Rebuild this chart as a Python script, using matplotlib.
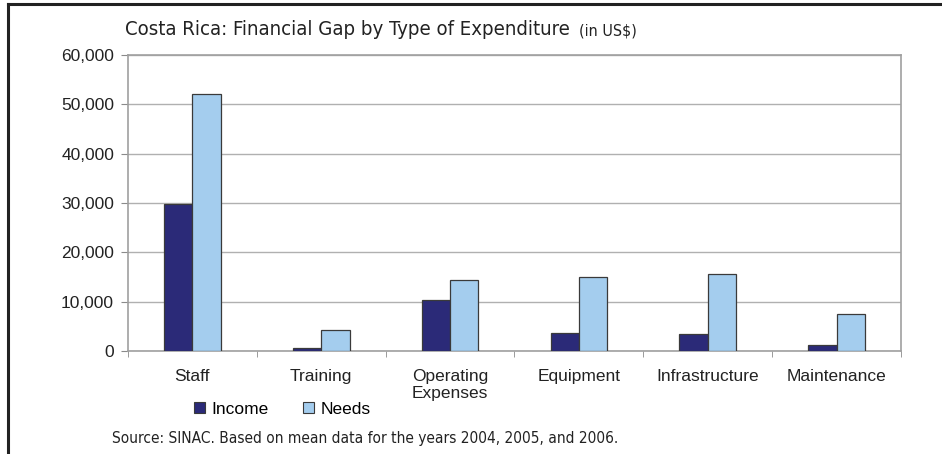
import numpy as np
import matplotlib.pyplot as plt
from matplotlib.patches import Patch
from matplotlib.lines import Line2D

categories = ["Staff", "Training", "Operating\nExpenses", "Equipment",
              "Infrastructure", "Maintenance"]
income = [29800, 700, 10300, 3600, 3400, 1200]
needs = [52000, 4250, 14400, 15000, 15600, 7600]
yticks = [0, 10000, 20000, 30000, 40000, 50000, 60000]

W, H = 942, 454
sans = ["Liberation Sans", "DejaVu Sans"]
dark_blue = "#2b2a78"
light_blue = "#a4cdee"

fig = plt.figure(figsize=(W / 100, H / 100), dpi=100)
ax = fig.add_axes([128 / W, 1 - 351 / H, (901 - 128) / W, (351 - 55) / H])

x = np.arange(len(categories))
w = 0.22
ax.bar(x - w / 2, income, w, color=dark_blue, edgecolor="#3a3a3a", linewidth=0.9, zorder=3)
ax.bar(x + w / 2, needs, w, color=light_blue, edgecolor="#3a3a3a", linewidth=0.9, zorder=3)

ax.set_xlim(-0.5, len(categories) - 0.5)
ax.set_ylim(0, 60000)
ax.set_yticks(yticks)
ax.set_yticklabels([f"{v:,}" for v in yticks], fontsize=12.5, family=sans, color="#222222")
ax.set_xticks(x)
ax.set_xticklabels(categories, fontsize=12.5, family=sans, color="#222222", linespacing=1.2)
ax.set_xticks(np.arange(len(categories) + 1) - 0.5, minor=True)
ax.tick_params(axis="x", which="major", length=0, pad=13)
ax.tick_params(axis="x", which="minor", length=4, color="#8a8a8a", direction="out")
ax.tick_params(axis="y", length=5, color="#8a8a8a", pad=5)

ax.grid(axis="y", color="#b0b0b0", linewidth=1, zorder=0)
for s in ax.spines.values():
    s.set_color("#a0a0a0")
    s.set_linewidth(1.2)


def fit_width(txt, target_px):
    # shrink/grow a text so it spans the same width as in the original (condensed font there)
    r = fig.canvas.get_renderer()
    bb = txt.get_window_extent(renderer=r)
    txt.set_fontsize(txt.get_fontsize() * target_px / bb.width)


cond = dict(family="DejaVu Sans", fontstretch="condensed", color="#222222", va="baseline")
title = fig.text(125 / W, 1 - 35 / H, "Costa Rica: Financial Gap by Type of Expenditure",
                 fontsize=16, **cond)
fit_width(title, 448)
unit = fig.text(579 / W, 1 - 35 / H, "(in US$)", fontsize=11, **cond)
fit_width(unit, 58)

source = fig.text(112 / W, 1 - 443 / H,
                  "Source: SINAC. Based on mean data for the years 2004, 2005, and 2006.",
                  fontsize=11, **cond)
fit_width(source, 508)

handles = [Patch(facecolor=dark_blue, edgecolor="#3a3a3a", linewidth=0.8),
           Patch(facecolor=light_blue, edgecolor="#3a3a3a", linewidth=0.8)]
fig.legend(handles, ["Income", "Needs"], loc="center left",
           bbox_to_anchor=(182 / W, 1 - 409 / H), ncol=2, frameon=False,
           handlelength=0.6, handleheight=0.6, handletextpad=0.4, columnspacing=2.0,
           borderpad=0.2, prop={"family": "Liberation Sans", "size": 12.5})

# outer frame (left and top)
fig.add_artist(Line2D([8 / W, 8 / W], [0, 1 - 4 / H], color="#222222", linewidth=2.2))
fig.add_artist(Line2D([8 / W, 1], [1 - 4 / H, 1 - 4 / H], color="#222222", linewidth=2.2))

fig.savefig("out.png", dpi=100)
